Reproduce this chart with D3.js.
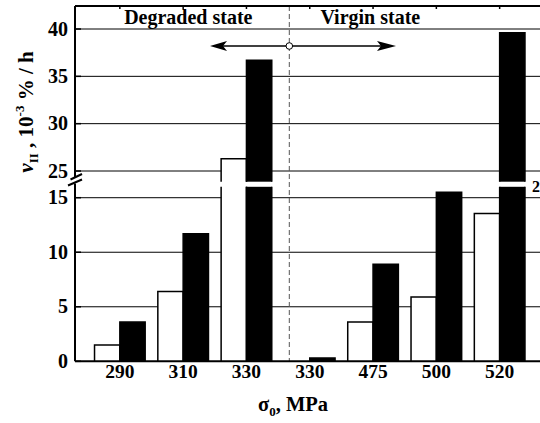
<!DOCTYPE html>
<meta charset="utf-8">
<head>
    <meta charset="utf-8">
    <title>Broken axis bar chart</title>
    <script src="https://d3js.org/d3.v7.min.js"></script>
    <style>
        body { margin: 0; background: #fff; }
    </style>
</head>
<body>
<div id="my_dataviz"></div>
<script>
    // Data
    var categories = ["290", "310", "330", "330", "475", "500", "520"];
    var whiteValues = [1.5, 6.4, 26.3, 0, 3.6, 5.9, 13.55];
    var blackValues = [3.6, 11.7, 36.7, 0.3, 8.9, 15.5, 39.6];
    var bottomTicks = [0, 5, 10, 15];
    var topTicks = [25, 30, 35, 40];
    var groupLabels = ["Degraded state", "Virgin state"];

    var W = 540, H = 423;
    var left = 75, right = 540, plotTop = 6, plotBottom = 361.3;

    var svg = d3.select("#my_dataviz")
        .append("svg")
        .attr("width", W)
        .attr("height", H);

    // every text in bold Times-like serif
    function label(x, y, size, anchor) {
        return svg.append("text").attr("x", x).attr("y", y)
            .attr("text-anchor", anchor || "start")
            .style("font-family", "'Liberation Serif'")
            .style("font-weight", "bold")
            .style("font-size", size + "px")
            .style("fill", "#000");
    }

    // two panels of the broken y axis
    var yBot = d3.scaleLinear().domain([0, 16]).range([plotBottom, 186.8]);
    var yTop = d3.scaleLinear().domain([23.87, 42.43]).range([181.7, plotTop]);
    var botMax = yBot.domain()[1], topMin = yTop.domain()[0];

    var x = d3.scaleBand()
        .domain(d3.range(categories.length))
        .range([88.2, 531.3]);
    var step = x.step(), bw = step * 0.4;

    // grid lines
    var grid = svg.append("g").attr("stroke", "#000").attr("stroke-width", 1);
    bottomTicks.filter(d => d > 0).forEach(function(t) {
        grid.append("line").attr("x1", left).attr("x2", right)
            .attr("y1", yBot(t)).attr("y2", yBot(t));
    });
    topTicks.forEach(function(t) {
        grid.append("line").attr("x1", left).attr("x2", right)
            .attr("y1", yTop(t)).attr("y2", yTop(t));
    });

    // divider between degraded and virgin state
    var divX = x(3) + step * 0.177;
    svg.append("line")
        .attr("x1", divX).attr("x2", divX)
        .attr("y1", plotTop).attr("y2", plotBottom)
        .attr("stroke", "#555").attr("stroke-width", 1)
        .attr("stroke-dasharray", "5,3");

    // bars, split across the break
    function drawBar(x0, v, fill) {
        var g = svg.append("g");
        var x1 = x0 + bw;
        if (v <= 0) return;
        var yb0 = yBot(0), yb1 = yBot(Math.min(v, botMax));
        g.append("rect").attr("x", x0).attr("y", yb1)
            .attr("width", bw).attr("height", yb0 - yb1).attr("fill", fill);
        var p = v <= botMax
            ? "M" + x0 + "," + yb0 + "V" + yb1 + "H" + x1 + "V" + yb0
            : "M" + x0 + "," + yb0 + "V" + yb1 + "M" + x1 + "," + yb1 + "V" + yb0;
        g.append("path").attr("d", p).attr("fill", "none")
            .attr("stroke", "#000").attr("stroke-width", 1.5);
        if (v > botMax) {
            var yt0 = yTop(topMin), yt1 = yTop(v);
            g.append("rect").attr("x", x0).attr("y", yt1)
                .attr("width", bw).attr("height", yt0 - yt1).attr("fill", fill);
            g.append("path")
                .attr("d", "M" + x0 + "," + yt0 + "V" + yt1 + "H" + x1 + "V" + yt0)
                .attr("fill", "none").attr("stroke", "#000").attr("stroke-width", 1.5);
        }
    }

    categories.forEach(function(c, i) {
        var x0 = x(i) + (step - 2 * bw) / 2;
        drawBar(x0, whiteValues[i], "#fff");
        drawBar(x0 + bw, blackValues[i], "#000");
    });

    // axes frame
    var axis = svg.append("g").attr("stroke", "#000").attr("stroke-width", 2).attr("fill", "none");
    axis.append("line").attr("x1", left).attr("x2", right).attr("y1", plotBottom).attr("y2", plotBottom);
    axis.append("line").attr("x1", left).attr("x2", right).attr("y1", plotTop).attr("y2", plotTop);
    axis.append("line").attr("x1", left).attr("x2", left).attr("y1", plotBottom).attr("y2", 183.5);
    axis.append("line").attr("x1", left).attr("x2", left).attr("y1", plotTop).attr("y2", 177);
    // break marks
    axis.append("line").attr("x1", 70.5).attr("y1", 179.5).attr("x2", 82).attr("y2", 174);
    axis.append("line").attr("x1", 68).attr("y1", 185.5).attr("x2", 82).attr("y2", 179.5);

    // y ticks (inward) and labels
    var ticks = svg.append("g").attr("stroke", "#000").attr("stroke-width", 1.5);
    bottomTicks.forEach(function(t) {
        ticks.append("line").attr("x1", left).attr("x2", left + 6).attr("y1", yBot(t)).attr("y2", yBot(t));
        label(68, yBot(t) + 6.5, 20, "end").text(t);
    });
    topTicks.forEach(function(t) {
        ticks.append("line").attr("x1", left).attr("x2", left + 6).attr("y1", yTop(t)).attr("y2", yTop(t));
        label(68, yTop(t) + 6.5, 20, "end").text(t);
    });
    // top axis ticks at group centres
    categories.forEach(function(c, i) {
        var cx = x(i) + step / 2;
        ticks.append("line").attr("x1", cx).attr("x2", cx).attr("y1", plotTop).attr("y2", plotTop + 3);
    });

    // x tick labels
    categories.forEach(function(c, i) {
        label(x(i) + step / 2, 378, 19.5, "middle").text(c);
    });

    // stray label piece at right edge
    label(532, 192, 16).text("2");

    // group labels
    label(divX - 101, 24, 20, "middle").text(groupLabels[0]);
    label(divX + 81, 24, 20, "middle").text(groupLabels[1]);

    // double arrow with circle
    var ay = 46, ax0 = divX - 79.3, ax1 = divX + 106.7;
    svg.append("line").attr("x1", ax0 + 10).attr("x2", ax1 - 10).attr("y1", ay).attr("y2", ay)
        .attr("stroke", "#000").attr("stroke-width", 1.5);
    svg.append("path").attr("d", "M" + ax0 + "," + ay + "L" + (ax0 + 17) + "," + (ay - 5) + "L" + (ax0 + 13) + "," + ay + "L" + (ax0 + 17) + "," + (ay + 5) + "Z");
    svg.append("path").attr("d", "M" + ax1 + "," + ay + "L" + (ax1 - 19) + "," + (ay - 5) + "L" + (ax1 - 15) + "," + ay + "L" + (ax1 - 19) + "," + (ay + 5) + "Z");
    svg.append("circle").attr("cx", divX).attr("cy", ay).attr("r", 3.3)
        .attr("fill", "#fff").attr("stroke", "#000").attr("stroke-width", 1);

    // axis titles
    var xt = label(293, 411, 20.5, "middle");
    xt.append("tspan").text("σ");
    xt.append("tspan").attr("dy", 5).style("font-size", "13px").text("0");
    xt.append("tspan").attr("dy", -5).text(", MPa");

    var yt = label(0, 0, 21, "middle")
        .attr("transform", "translate(33,112) rotate(-90)");
    yt.append("tspan").style("font-style", "italic").text("v");
    yt.append("tspan").attr("dy", 5).style("font-size", "13px").text("II");
    yt.append("tspan").attr("dy", -5).text(" , 10");
    yt.append("tspan").attr("dy", -9).style("font-size", "13px").text("-3");
    yt.append("tspan").attr("dy", 9).text("   % / h");
</script>
</body>
